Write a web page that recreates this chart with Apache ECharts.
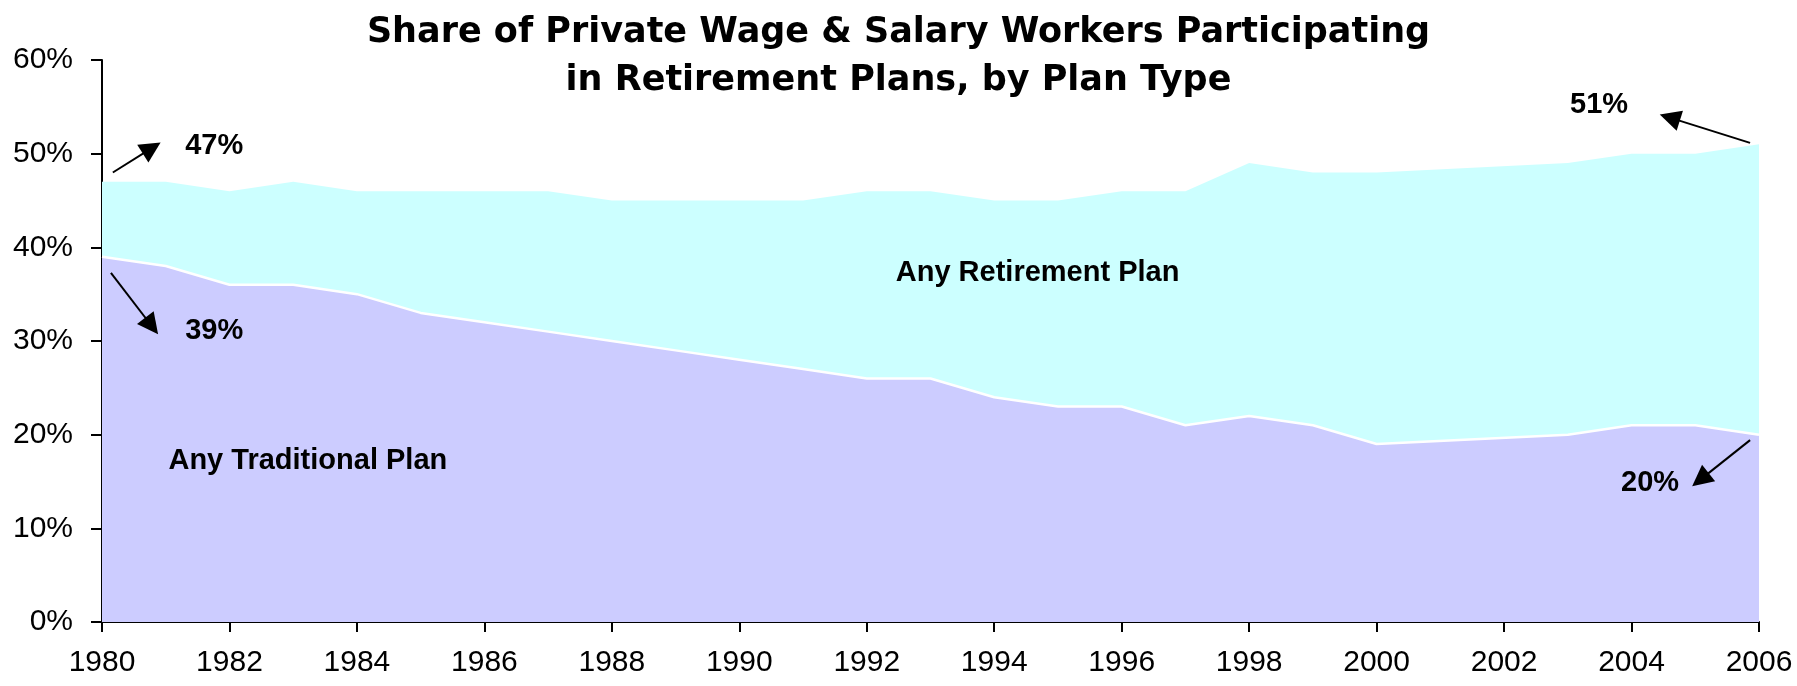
<!DOCTYPE html>
<html>
<head>
<meta charset="utf-8">
<title>Retirement plan participation</title>
<script src="https://cdn.jsdelivr.net/npm/echarts@6/dist/echarts.min.js"></script>
<style>
  html, body { margin: 0; padding: 0; background: #fff; }
  #chart { width: 1797px; height: 686px; }
</style>
</head>
<body>
<div id="chart"></div>
<script>
// years with data (2001, 2002 not reported)
var years = [1980, 1981, 1982, 1983, 1984, 1985, 1986, 1987, 1988, 1989, 1990,
  1991, 1992, 1993, 1994, 1995, 1996, 1997, 1998, 1999, 2000, 2003, 2004, 2005, 2006]
var anyRetirement = [47, 47, 46, 47, 46, 46, 46, 46, 45, 45, 45, 45, 46, 46, 45,
  45, 46, 46, 49, 48, 48, 49, 50, 50, 51]
var anyTraditional = [39, 38, 36, 36, 35, 33, 32, 31, 30, 29, 28, 27, 26, 26, 24,
  23, 23, 21, 22, 21, 19, 20, 21, 21, 20]
var yTicks = [0, 10, 20, 30, 40, 50, 60]

var font = 'Liberation Sans, Arial, sans-serif'

function pairs (vals) {
  var out = []
  for (var i = 0; i < years.length; i++) {
    out.push([years[i], vals[i]])
  }
  return out
}

// callout text, placed in data space
function note (text, x, y) {
  return {
    coord: [x, y],
    symbol: 'rect',
    symbolSize: 1,
    itemStyle: { color: 'rgba(0,0,0,0)' },
    label: {
      show: true,
      position: 'inside',
      formatter: text,
      color: '#000',
      fontFamily: font,
      fontWeight: 'bold',
      fontSize: 29
    }
  }
}

function arrow (x0, y0, x1, y1) {
  return [{ coord: [x0, y0] }, { coord: [x1, y1] }]
}

var chart = echarts.init(document.getElementById('chart'))
chart.setOption({
  animation: false,
  backgroundColor: '#fff',
  title: {
    text: 'Share of Private Wage & Salary Workers Participating\nin Retirement Plans, by Plan Type',
    left: 'center',
    top: 9,
    padding: 0,
    textStyle: {
      fontFamily: 'DejaVu Sans, sans-serif',
      fontWeight: 'bold',
      fontSize: 35,
      lineHeight: 48,
      color: '#000'
    }
  },
  grid: { left: 102, right: 38, top: 60, bottom: 64, containLabel: false },
  xAxis: {
    type: 'value',
    min: 1980,
    max: 2006,
    interval: 2,
    splitLine: { show: false },
    axisLine: { lineStyle: { color: '#000', width: 2 } },
    axisTick: { inside: false, length: 10, lineStyle: { color: '#000', width: 2 } },
    axisLabel: {
      margin: 26,
      color: '#000',
      fontFamily: font,
      fontSize: 30,
      formatter: function (v) { return String(v) }
    }
  },
  yAxis: {
    type: 'value',
    min: yTicks[0],
    max: yTicks[yTicks.length - 1],
    interval: 10,
    splitLine: { show: false },
    axisLine: { show: true, lineStyle: { color: '#000', width: 2 } },
    axisTick: { show: true, inside: false, length: 11, lineStyle: { color: '#000', width: 2 } },
    axisLabel: {
      margin: 29,
      color: '#000',
      fontFamily: font,
      fontSize: 30,
      formatter: '{value}%'
    }
  },
  series: [
    {
      name: 'Any Retirement Plan',
      type: 'line',
      data: pairs(anyRetirement),
      symbol: 'none',
      lineStyle: { width: 0, color: '#ccffff' },
      areaStyle: { color: '#ccffff', opacity: 1 },
      z: 1
    },
    {
      name: 'Any Traditional Plan',
      type: 'line',
      data: pairs(anyTraditional),
      symbol: 'none',
      lineStyle: { width: 2.5, color: '#fff' },
      areaStyle: { color: '#ccccff', opacity: 1 },
      z: 2,
      markLine: {
        silent: true,
        symbol: ['none', 'triangle'],
        symbolSize: 21,
        lineStyle: { color: '#000', width: 2, type: 'solid' },
        itemStyle: { color: '#000' },
        label: { show: false },
        data: [
          arrow(1980.17, 47.99, 1980.78, 50.6),
          arrow(1980.14, 37.28, 1980.78, 31.6),
          arrow(2005.86, 51.15, 2004.6, 53.85),
          arrow(2005.86, 19.42, 2005.08, 15.2)
        ]
      },
      markPoint: {
        silent: true,
        data: [
          note('47%', 1981.76, 50.8),
          note('39%', 1981.76, 31.06),
          note('Any Traditional Plan', 1983.23, 17.18),
          note('Any Retirement Plan', 1994.68, 37.3),
          note('51%', 2003.49, 55.18),
          note('20%', 2004.29, 14.83)
        ]
      }
    }
  ]
})
</script>
</body>
</html>
